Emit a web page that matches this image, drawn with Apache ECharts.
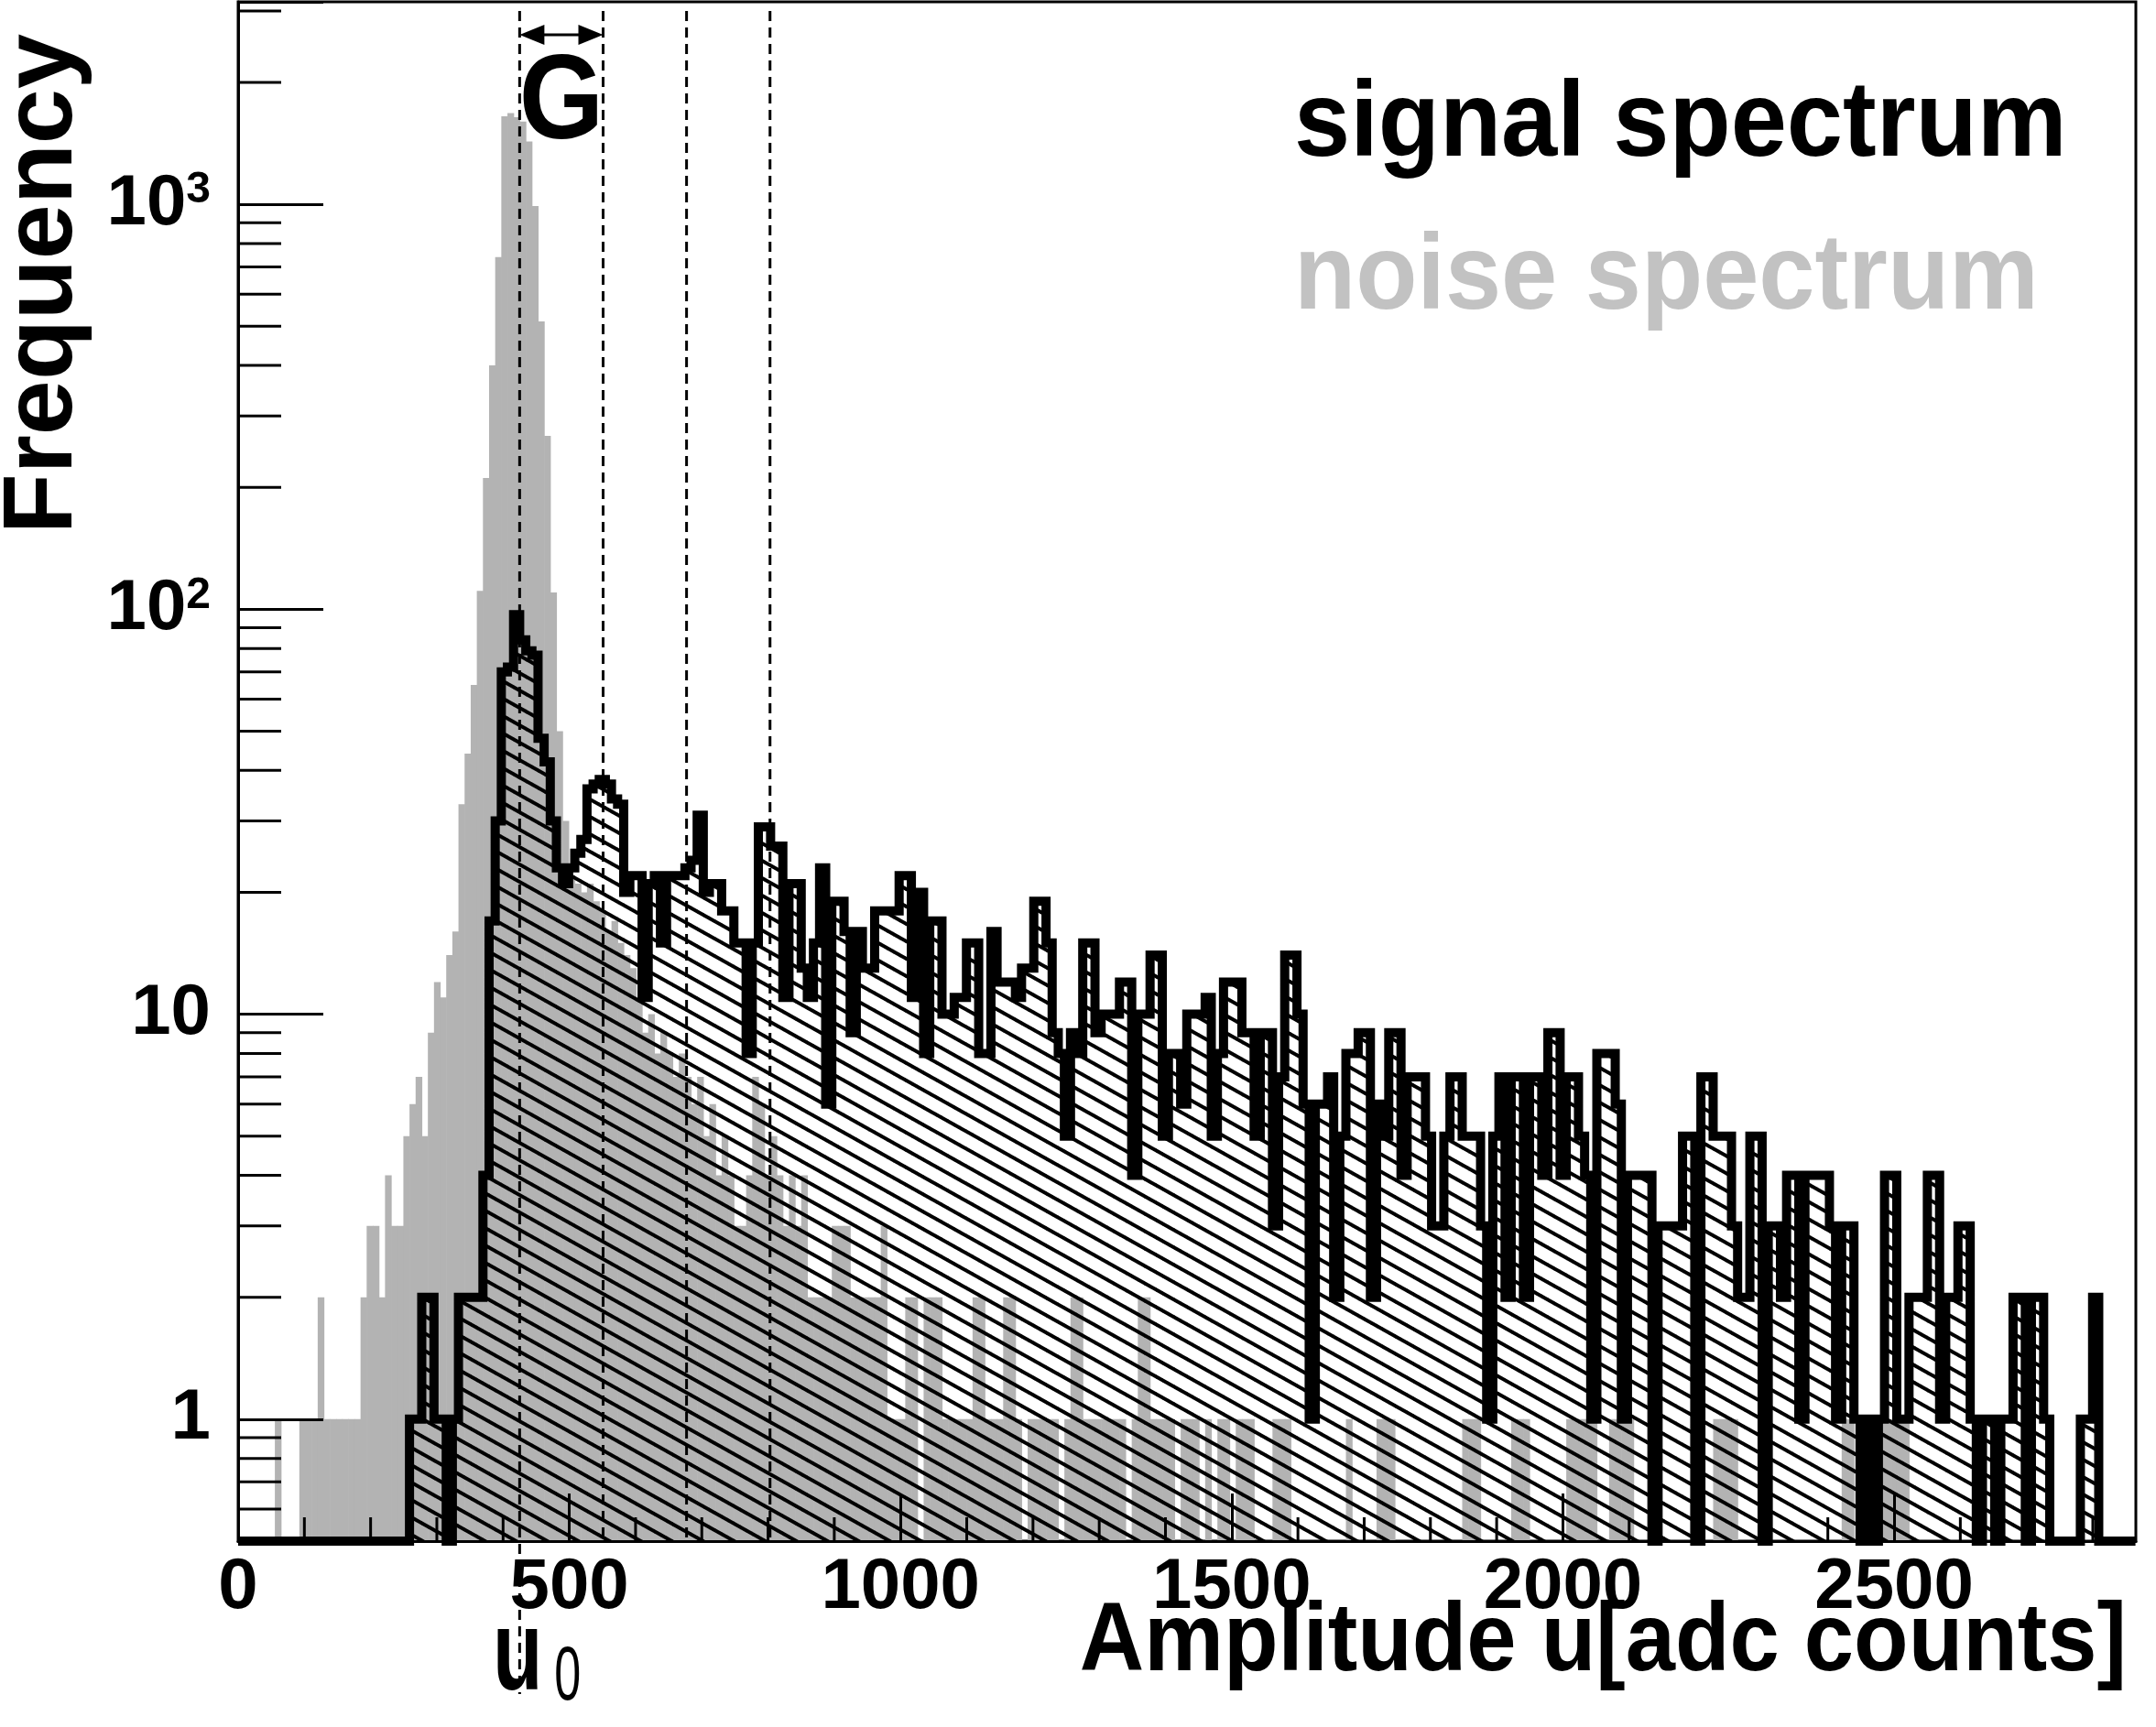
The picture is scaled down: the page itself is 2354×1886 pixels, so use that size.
<!DOCTYPE html>
<html>
<head>
<meta charset="utf-8">
<title>signal / noise spectrum</title>
<script src="https://cdn.jsdelivr.net/npm/echarts@6/dist/echarts.min.js"></script>
<style>
  html, body { margin: 0; padding: 0; background: #fff; }
  #chart { width: 2354px; height: 1886px; }
</style>
</head>
<body>
<div id="chart"></div>
<script>
// binning of both histograms (adc counts)
const BIN_WIDTH = 9.24
const X_MAX = 2865
const Y_MIN = 0.5
const Y_MAX = 3162

// pedestal and gain, the dashed lines sit at U0 + k*GAIN
const U0 = 425
const GAIN = 126
const N_LINES = 4

// counts per bin, 10 bins per row
const signalCounts = [
  0, 0, 0, 0, 0, 0, 0, 0, 0, 0,
  0, 0, 0, 0, 0, 0, 0, 0, 0, 0,
  0, 0, 0, 0, 0, 0, 0, 0, 1, 1,
  2, 2, 1, 1, 0, 1, 2, 2, 2, 2,
  4, 17, 30, 70, 72, 97, 84, 79, 77, 48,
  42, 30, 23, 21, 23, 25, 27, 36, 37, 38,
  37, 34, 33, 20, 22, 22, 11, 21, 22, 15,
  22, 22, 22, 23, 24, 31, 20, 21, 21, 18,
  18, 15, 15, 8, 15, 29, 29, 26, 26, 11,
  21, 21, 13, 11, 15, 23, 6, 19, 19, 16,
  9, 16, 13, 13, 18, 18, 18, 18, 22, 22,
  11, 20, 8, 17, 17, 10, 10, 11, 11, 15,
  15, 8, 8, 16, 12, 12, 12, 11, 13, 13,
  19, 19, 15, 9, 8, 5, 9, 8, 15, 15,
  9, 10, 10, 10, 12, 12, 4, 10, 10, 14,
  14, 5, 8, 8, 6, 10, 10, 10, 11, 5,
  8, 12, 12, 12, 9, 9, 5, 9, 9, 3,
  7, 14, 14, 10, 6, 1, 6, 6, 7, 2,
  5, 8, 8, 9, 9, 2, 6, 5, 9, 9,
  4, 7, 7, 7, 5, 3, 3, 5, 7, 7,
  5, 5, 5, 3, 1, 5, 7, 2, 7, 7,
  2, 7, 7, 4, 9, 9, 4, 7, 7, 5,
  4, 1, 8, 8, 8, 6, 1, 4, 4, 4,
  4, 0, 3, 3, 3, 3, 5, 5, 0, 7,
  7, 5, 5, 5, 3, 2, 2, 5, 5, 0,
  3, 3, 2, 4, 4, 1, 4, 4, 4, 4,
  3, 1, 3, 3, 1, 0, 1, 0, 1, 4,
  4, 1, 1, 2, 2, 2, 4, 4, 1, 2,
  2, 3, 3, 1, 0, 1, 1, 0, 1, 1,
  2, 2, 0, 2, 2, 1, 0, 0, 0, 0,
  0, 1, 1, 2, 0, 0, 0, 0, 0, 0
]

const noiseCounts = [
  0, 0, 0, 0, 0, 0, 1, 0, 0, 0,
  1, 1, 1, 2, 1, 1, 1, 1, 1, 1,
  2, 3, 3, 2, 4, 3, 3, 5, 6, 7,
  5, 9, 12, 11, 14, 16, 33, 44, 65, 111,
  211, 400, 741, 1650, 1680, 1640, 1600, 1430, 990, 514,
  268, 110, 50, 30, 22, 21, 20, 21, 19, 18,
  16, 17, 15, 14, 13, 11, 9, 10, 8, 9,
  8, 7, 8, 7, 6, 7, 5, 6, 4, 5,
  4, 3, 3, 4, 7, 6, 4, 5, 4, 3,
  4, 3, 4, 2, 2, 2, 2, 3, 3, 3,
  2, 2, 2, 2, 2, 3, 1, 1, 1, 2,
  2, 0, 2, 2, 2, 1, 1, 1, 1, 1,
  2, 2, 1, 1, 1, 2, 2, 1, 0, 1,
  1, 1, 1, 1, 0, 1, 2, 2, 1, 1,
  1, 1, 1, 1, 1, 0, 1, 2, 2, 1,
  1, 1, 1, 0, 1, 1, 1, 0, 1, 0,
  1, 1, 0, 1, 1, 1, 0, 0, 0, 1,
  1, 1, 0, 0, 0, 0, 0, 0, 0, 0,
  0, 1, 0, 0, 0, 0, 1, 1, 1, 0,
  0, 0, 0, 0, 0, 0, 0, 0, 0, 0,
  1, 1, 1, 0, 0, 0, 0, 0, 1, 1,
  1, 0, 0, 0, 0, 0, 0, 1, 1, 1,
  1, 1, 0, 0, 1, 1, 1, 1, 0, 0,
  0, 0, 0, 0, 0, 0, 0, 0, 0, 0,
  0, 1, 1, 1, 1, 0, 0, 0, 0, 0,
  0, 0, 0, 0, 0, 0, 0, 0, 0, 0,
  0, 0, 1, 1, 0, 0, 0, 0, 1, 1,
  1, 1, 1, 0, 0, 0, 0, 0, 0, 0,
  0, 0, 0, 0, 0, 0, 0, 0, 0, 0,
  0, 0, 0, 0, 0, 0, 0, 0, 0, 0,
  0, 0, 0, 0, 0, 0, 0, 0, 0, 0
]

// small ticks (ROOT style)
const xMinorTicks = [100, 200, 300, 400, 600, 700, 800, 900, 1100, 1200, 1300, 1400,
  1600, 1700, 1800, 1900, 2100, 2200, 2300, 2400, 2600, 2700, 2800]
const yMinorTicks = [0.6, 0.7, 0.8, 0.9, 2, 3, 4, 5, 6, 7, 8, 9,
  20, 30, 40, 50, 60, 70, 80, 90, 200, 300, 400, 500, 600, 700, 800, 900, 2000, 3000]

const FONT = '"Liberation Sans", Arial, Helvetica, sans-serif'
const NOISE_GRAY = '#b3b3b3'

// hatch "\\\" used by ROOT fill style
function makeHatch() {
  const w = 34, h = 19
  const c = document.createElement('canvas')
  c.width = w
  c.height = h
  const ctx = c.getContext('2d')
  ctx.strokeStyle = '#000'
  ctx.lineWidth = 4
  for (let k = -1; k <= 1; k++) {
    ctx.beginPath()
    ctx.moveTo(-w, -h + k * h)
    ctx.lineTo(2 * w, 2 * h + k * h)
    ctx.stroke()
  }
  return c
}
const hatch = { image: makeHatch(), repeat: 'repeat' }

const toBins = counts => counts
  .map((c, i) => [i * BIN_WIDTH, (i + 1) * BIN_WIDTH, c])
  .filter(d => d[2] > 0)

// outline of the signal histogram, empty bins drawn on the frame bottom
const outline = signalCounts.map((c, i) => [i * BIN_WIDTH, Math.max(c, Y_MIN)])
outline.push([signalCounts.length * BIN_WIDTH, Math.max(signalCounts[signalCounts.length - 1], Y_MIN)])

const binRect = fill => (params, api) => {
  const p0 = api.coord([api.value(0), api.value(2)])
  const p1 = api.coord([api.value(1), Y_MIN])
  return {
    type: 'rect',
    shape: { x: p0[0], y: p0[1], width: p1[0] - p0[0] + 0.6, height: p1[1] - p0[1] },
    style: { fill: fill }
  }
}

const chart = echarts.init(document.getElementById('chart'), null, { renderer: 'canvas' })

const option = {
  animation: false,
  backgroundColor: '#fff',
  grid: {
    left: 260, right: 22, top: 2, bottom: 203,
    show: true, borderColor: '#000', borderWidth: 3,
    outerBoundsMode: 'none'
  },
  xAxis: {
    type: 'value', min: 0, max: X_MAX, interval: 500, z: 10,
    axisLine: { show: true, onZero: false, lineStyle: { color: '#000', width: 3 } },
    axisTick: { show: true, inside: true, length: 52, lineStyle: { color: '#000', width: 3 } },
    axisLabel: {
      show: true, color: '#000', fontSize: 78, fontWeight: 'bold', fontFamily: FONT,
      margin: 12, showMaxLabel: false, showMinLabel: true,
      formatter: v => String(v)
    },
    splitLine: { show: false }
  },
  yAxis: {
    type: 'log', logBase: 10, min: Y_MIN, max: Y_MAX, z: 10,
    axisLine: { show: true, lineStyle: { color: '#000', width: 3 } },
    axisTick: { show: true, inside: true, length: 93, lineStyle: { color: '#000', width: 3 } },
    axisLabel: {
      show: true, margin: 30,
      formatter: v => {
        const e = Math.log10(v)
        const r = Math.round(e)
        if (Math.abs(e - r) > 1e-6) return ''
        if (r === 0) return '{b|1}'
        if (r === 1) return '{b|10}'
        return '{b|10}{s|' + r + '}'
      },
      rich: {
        b: { fontSize: 78, fontWeight: 'bold', fontFamily: FONT, color: '#000' },
        s: { fontSize: 48, fontWeight: 'bold', fontFamily: FONT, color: '#000', verticalAlign: 'top' }
      }
    },
    splitLine: { show: false }
  },
  graphic: [
    {
      type: 'text', x: 1413, y: 138, scaleX: 0.94,
      style: { text: 'signal spectrum', font: 'bold 117px ' + FONT, fill: '#000', textAlign: 'left', textVerticalAlign: 'middle' }
    },
    {
      type: 'text', x: 1413, y: 305, scaleX: 0.94,
      style: { text: 'noise spectrum', font: 'bold 117px ' + FONT, fill: '#c2c2c2', textAlign: 'left', textVerticalAlign: 'middle' }
    },
    {
      type: 'text', x: 2322, y: 1795, scaleX: 0.92,
      style: { text: 'Amplitude u[adc counts]', font: 'bold 106px ' + FONT, fill: '#000', textAlign: 'right', textVerticalAlign: 'middle' }
    },
    {
      type: 'text', x: 48, y: 37, rotation: Math.PI / 2,
      style: { text: 'Frequency', font: 'bold 108px ' + FONT, fill: '#000', textAlign: 'right', textVerticalAlign: 'middle' }
    }
  ],
  series: [
    {
      name: 'noise', type: 'custom', z: 1,
      data: toBins(noiseCounts),
      encode: { x: [0, 1], y: 2 },
      renderItem: binRect(NOISE_GRAY)
    },
    {
      name: 'signal', type: 'custom', z: 2,
      data: toBins(signalCounts),
      encode: { x: [0, 1], y: 2 },
      renderItem: binRect(hatch)
    },
    {
      name: 'signal outline', type: 'line', z: 3,
      data: outline, step: 'end', symbol: 'none', clip: true,
      lineStyle: { color: '#000', width: 10, join: 'miter' }
    },
    {
      // dashed peak lines, gain arrow, G and u0 labels
      name: 'marks', type: 'custom', z: 4, clip: false,
      data: [[U0, Y_MIN]],
      renderItem: (params, api) => {
        const top = api.coord([U0, Y_MAX])[1]
        const bottom = api.coord([U0, Y_MIN])[1]
        const children = []
        for (let k = 0; k < N_LINES; k++) {
          const x = api.coord([U0 + k * GAIN, Y_MIN])[0]
          children.push({
            type: 'line',
            shape: { x1: x, y1: top + 10, x2: x, y2: k === 0 ? bottom + 167 : bottom },
            style: { stroke: '#000', lineWidth: 3, lineDash: [11, 7] }
          })
        }
        const xa = api.coord([U0, Y_MIN])[0]
        const xb = api.coord([U0 + GAIN, Y_MIN])[0]
        const ya = top + 36
        children.push({
          type: 'line', shape: { x1: xa + 20, y1: ya, x2: xb - 20, y2: ya },
          style: { stroke: '#000', lineWidth: 3 }
        })
        children.push({
          type: 'polygon', shape: { points: [[xa, ya], [xa + 27, ya - 11], [xa + 27, ya + 11]] },
          style: { fill: '#000' }
        })
        children.push({
          type: 'polygon', shape: { points: [[xb, ya], [xb - 27, ya - 11], [xb - 27, ya + 11]] },
          style: { fill: '#000' }
        })
        children.push({
          type: 'text', x: (xa + xb) / 2, y: top + 113, scaleX: 0.9,
          style: { text: 'G', font: 'bold 132px ' + FONT, fill: '#000', textAlign: 'center', textVerticalAlign: 'middle' }
        })
        children.push({
          type: 'text', x: xa - 2, y: bottom + 128, scaleX: 0.72,
          style: { text: 'u', font: 'bold 124px ' + FONT, fill: '#000', textAlign: 'center', textVerticalAlign: 'middle' }
        })
        children.push({
          type: 'text', x: xa + 38, y: bottom + 150, scaleX: 0.62,
          style: { text: '0', font: '84px ' + FONT, fill: '#000', textAlign: 'left', textVerticalAlign: 'middle' }
        })
        return { type: 'group', children: children }
      }
    },
    {
      name: 'x minor ticks', type: 'custom', z: 10,
      data: xMinorTicks.map(v => [v, Y_MIN]),
      renderItem: (params, api) => {
        const p = api.coord([api.value(0), Y_MIN])
        return { type: 'line', shape: { x1: p[0], y1: p[1], x2: p[0], y2: p[1] - 26 }, style: { stroke: '#000', lineWidth: 3 } }
      }
    },
    {
      name: 'y minor ticks', type: 'custom', z: 10,
      data: yMinorTicks.map(v => [0, v]),
      renderItem: (params, api) => {
        const p = api.coord([0, api.value(1)])
        return { type: 'line', shape: { x1: p[0], y1: p[1], x2: p[0] + 47, y2: p[1] }, style: { stroke: '#000', lineWidth: 3 } }
      }
    }
  ]
}

chart.setOption(option)
</script>
</body>
</html>
